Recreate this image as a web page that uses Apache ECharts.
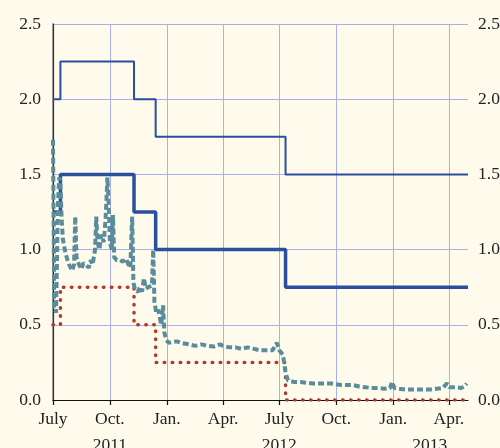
<!DOCTYPE html>
<html>
<head>
<meta charset="utf-8">
<script src="https://cdn.jsdelivr.net/npm/echarts@6/dist/echarts.min.js"></script>
<style>
html,body{margin:0;padding:0;background:#fefbed;}
#c{width:500px;height:448px;}
</style>
</head>
<body>
<div id="c"></div>
<script>
// ---- data ----
var axisStart = '2011-07-01';
var axisEnd = '2013-05-02';
var tickDates = ['2011-07-01','2011-10-01','2012-01-01','2012-04-01','2012-07-01','2012-10-01','2013-01-01','2013-04-01'];
var tickLabels = ['July','Oct.','Jan.','Apr.','July','Oct.','Jan.','Apr.'];
var yearDates = ['2011-10-01','2012-07-01','2013-03-01'];
var yearLabels = ['2011','2012','2013'];

var stepDates = ['2011-07-01','2011-07-13','2011-11-09','2011-12-14','2012-07-11','2013-05-02'];
var marginalRate = [2.0, 2.25, 2.0, 1.75, 1.5, 1.5];
var mainRate = [1.25, 1.5, 1.25, 1.0, 0.75, 0.75];
var depositRate = [0.5, 0.75, 0.5, 0.25, 0.0, 0.0];

var eoniaDates = ['2011-07-01','2011-07-03','2011-07-06','2011-07-09','2011-07-11','2011-07-13','2011-07-15','2011-07-17','2011-07-20','2011-07-23','2011-07-27',
'2011-08-01','2011-08-04','2011-08-06','2011-08-08','2011-08-12','2011-08-16','2011-08-19','2011-08-23','2011-08-28','2011-08-31',
'2011-09-03','2011-09-07','2011-09-09','2011-09-11','2011-09-14','2011-09-17','2011-09-21','2011-09-24','2011-09-27','2011-09-29',
'2011-10-01','2011-10-04','2011-10-06','2011-10-08','2011-10-12','2011-10-17','2011-10-22','2011-10-27','2011-10-31',
'2011-11-03','2011-11-06','2011-11-08','2011-11-11','2011-11-15','2011-11-19','2011-11-22','2011-11-25','2011-11-28',
'2011-12-02','2011-12-05','2011-12-08','2011-12-10','2011-12-12','2011-12-15','2011-12-18','2011-12-23','2011-12-26','2011-12-28','2011-12-31',
'2012-01-04','2012-01-07','2012-01-17','2012-01-24','2012-02-06','2012-02-16','2012-02-26','2012-03-07','2012-03-17','2012-03-27',
'2012-04-01','2012-04-11','2012-04-21','2012-05-01','2012-05-11','2012-05-21','2012-05-31','2012-06-10','2012-06-20','2012-06-27',
'2012-07-01','2012-07-07','2012-07-11','2012-07-15','2012-07-25','2012-08-04','2012-08-14','2012-08-24','2012-09-03','2012-09-13','2012-09-23',
'2012-10-01','2012-10-08','2012-10-18','2012-10-28','2012-11-07','2012-11-17','2012-11-27','2012-12-07','2012-12-17','2012-12-27','2012-12-30',
'2013-01-03','2013-01-11','2013-01-21','2013-01-31','2013-02-10','2013-02-20','2013-03-02','2013-03-12','2013-03-22','2013-03-29',
'2013-04-02','2013-04-11','2013-04-21','2013-04-26','2013-04-30'];
var eoniaValues = [1.73,0.62,0.58,1.3,1.48,1.45,1.2,1.07,1.0,0.95,0.9,
0.86,0.9,1.22,0.95,0.9,0.87,0.91,0.9,0.88,0.93,
0.9,1.0,1.22,1.05,1.0,1.1,1.05,1.2,1.48,1.3,
1.05,1.0,1.23,0.95,0.93,0.93,0.92,0.94,0.9,
0.88,1.22,0.78,0.73,0.72,0.75,0.72,0.81,0.74,
0.75,0.75,0.76,1.0,0.65,0.58,0.6,0.5,0.63,0.45,0.4,
0.38,0.39,0.39,0.38,0.37,0.36,0.37,0.36,0.355,0.37,
0.36,0.35,0.35,0.34,0.35,0.34,0.33,0.33,0.33,0.38,
0.33,0.3,0.18,0.13,0.12,0.12,0.115,0.11,0.11,0.11,0.11,
0.105,0.1,0.1,0.1,0.09,0.085,0.08,0.08,0.075,0.08,0.12,
0.08,0.075,0.07,0.07,0.07,0.07,0.07,0.075,0.08,0.11,
0.085,0.085,0.08,0.09,0.11];

// ---- build (x = days since axisStart) ----
function utc(s){ var p = s.split('-'); return Date.UTC(+p[0], +p[1]-1, +p[2]); }
function day(s){ return Math.round((utc(s) - utc(axisStart)) / 86400000); }
function pairs(d, v){ return d.map(function(x,i){ return [day(x), v[i]]; }); }
var tickDays = tickDates.map(day);
var yearDays = yearDates.map(day);
var font = 'Liberation Serif';
var fs = 17.5;

var chart = echarts.init(document.getElementById('c'), null, {renderer:'canvas'});
chart.setOption({
  backgroundColor: '#fefbed',
  animation: false,
  grid: {left: 53, right: 32, top: 24, bottom: 48, containLabel: false, outerBoundsMode: 'none'},
  xAxis: [{
    type: 'value', min: 0, max: day(axisEnd),
    axisLine: {show: true, onZero: false, lineStyle: {color: '#111', width: 1.2}},
    axisTick: {show: true, inside: false, length: 5, lineStyle: {color: '#111', width: 1.2}, customValues: tickDays},
    axisLabel: {customValues: tickDays, margin: 10, color: '#222', fontFamily: font, fontSize: fs,
      formatter: function(v){ var i = tickDays.indexOf(v); return i >= 0 ? tickLabels[i] : ''; }},
    splitLine: {show: true, lineStyle: {color: '#aab0ec', width: 1}}
  }, {
    type: 'value', min: 0, max: day(axisEnd), position: 'bottom',
    axisLine: {show: false}, axisTick: {show: false}, splitLine: {show: false},
    axisLabel: {customValues: yearDays, margin: 36, color: '#222', fontFamily: font, fontSize: fs,
      formatter: function(v){ var i = yearDays.indexOf(v); return i >= 0 ? yearLabels[i] : ''; }}
  }],
  yAxis: [{
    type: 'value', min: 0, max: 2.5, interval: 0.5, position: 'left',
    axisLine: {show: true, lineStyle: {color: '#888', width: 1.5}},
    axisTick: {show: false},
    axisLabel: {margin: 12, color: '#222', fontFamily: font, fontSize: fs,
      formatter: function(v){ return v.toFixed(1); }},
    splitLine: {show: true, lineStyle: {color: '#aab0ec', width: 1}}
  }, {
    type: 'value', min: 0, max: 2.5, interval: 0.5, position: 'right',
    axisLine: {show: true, lineStyle: {color: '#333', width: 1.2}},
    axisTick: {show: false},
    axisLabel: {margin: 10, color: '#222', fontFamily: font, fontSize: fs,
      formatter: function(v){ return v.toFixed(1); }},
    splitLine: {show: false}
  }],
  series: [{
    type: 'line', step: 'end', showSymbol: false, symbol: 'none',
    data: pairs(stepDates, marginalRate),
    lineStyle: {color: '#2a4f9e', width: 2}
  }, {
    type: 'line', step: 'end', showSymbol: false, symbol: 'none',
    data: pairs(stepDates, mainRate),
    lineStyle: {color: '#2a4f9e', width: 3.5}
  }, {
    type: 'line', step: 'end', showSymbol: false, symbol: 'none',
    data: pairs(stepDates, depositRate),
    lineStyle: {color: '#b13a2f', width: 3.5, type: [0.5, 7.5], cap: 'round'}
  }, {
    type: 'line', showSymbol: false, symbol: 'none',
    data: pairs(eoniaDates, eoniaValues),
    lineStyle: {color: '#5a8c9c', width: 4, type: [6, 3]}
  }]
});
</script>
</body>
</html>
